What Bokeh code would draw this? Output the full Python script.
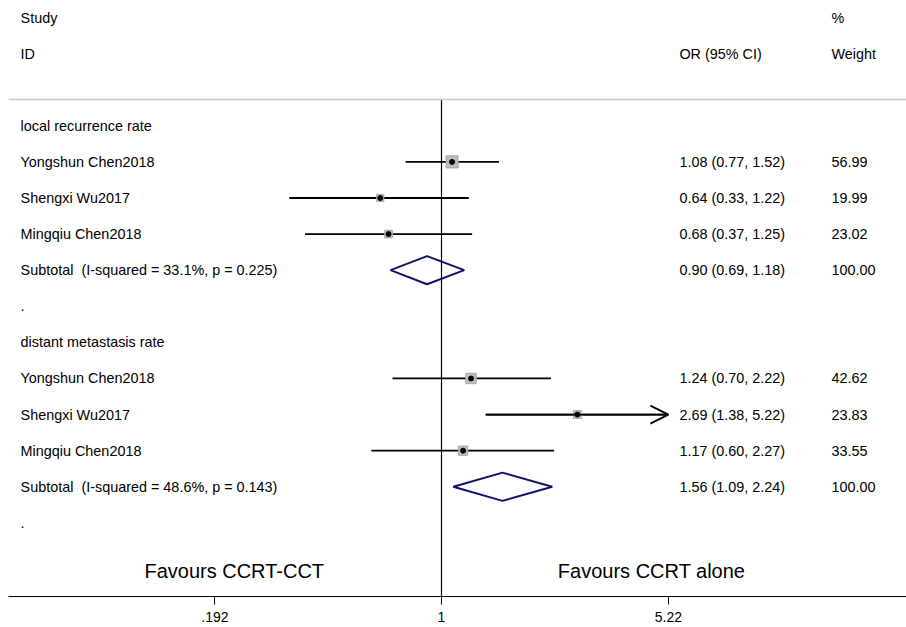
import numpy as np
from bokeh.plotting import figure
from bokeh.models import (Range1d, FixedTicker, CustomJSTickFormatter, Span,
                          Arrow, OpenHead, ColumnDataSource)
from bokeh.core.properties import value
from bokeh.embed import file_html
from bokeh.resources import INLINE

# ---------------- data ----------------
group_names = ["local recurrence rate", "distant metastasis rate"]
study_names = ["Yongshun Chen2018", "Shengxi Wu2017", "Mingqiu Chen2018"]

or_local = [1.08, 0.64, 0.68]
lo_local = [0.77, 0.33, 0.37]
hi_local = [1.52, 1.22, 1.25]
w_local = [56.99, 19.99, 23.02]

or_dist = [1.24, 2.69, 1.17]
lo_dist = [0.70, 1.38, 0.60]
hi_dist = [2.22, 5.22, 2.27]
w_dist = [42.62, 23.83, 33.55]

sub_or = [0.90, 1.56]
sub_lo = [0.69, 1.09]
sub_hi = [1.18, 2.24]
sub_i2 = ["33.1%", "48.6%"]
sub_p = ["0.225", "0.143"]
sub_w = [100.00, 100.00]

tick_values = [0.192, 1, 5.22]
favours_left = "Favours CCRT-CCT"
favours_right = "Favours CCRT alone"

# ---------------- layout constants ----------------
FONT = "Liberation Sans"
W, H = 906, 627
X_LEFT, X_RIGHT = np.exp(-3.154), np.exp(3.387)
Y_TOP, Y_BOTTOM = -0.471, 16.04
X_LABEL = np.exp(-3.066)
X_OR = np.exp(1.733)
X_WT = np.exp(2.840)
LINE_ROW = 2.27
FAV_ROW = 15.32
X_FAV_L, X_FAV_R = 0.221, 4.62

p = figure(width=W, height=H, x_axis_type="log", output_backend="svg",
           toolbar_location=None, x_range=Range1d(X_LEFT, X_RIGHT),
           y_range=Range1d(Y_BOTTOM, Y_TOP), y_axis_location=None,
           min_border=0, min_border_left=8, min_border_right=0, min_border_top=0,
           min_border_bottom=31)
p.outline_line_color = None
p.xgrid.visible = False
p.ygrid.visible = False
p.background_fill_color = "white"
p.border_fill_color = "white"

# ---------------- build rows ----------------
lab_y, lab_t = [], []
or_y, or_t, wt_y, wt_t = [], [], [], []
st_or, st_lo, st_hi, st_w, st_y = [], [], [], [], []
groups = [(or_local, lo_local, hi_local, w_local), (or_dist, lo_dist, hi_dist, w_dist)]
for g, (o, l, h, w) in enumerate(groups):
    base = 3 + 6 * g
    lab_y.append(base); lab_t.append(group_names[g])
    for i in range(3):
        r = base + 1 + i
        lab_y.append(r); lab_t.append(study_names[i])
        or_y.append(r); or_t.append(f"{o[i]:.2f} ({l[i]:.2f}, {h[i]:.2f})")
        wt_y.append(r); wt_t.append(f"{w[i]:.2f}")
        st_or.append(o[i]); st_lo.append(l[i]); st_hi.append(h[i]); st_w.append(w[i]); st_y.append(r)
    rs = base + 4
    lab_y.append(rs); lab_t.append(f"Subtotal\u00a0 (I-squared = {sub_i2[g]}, p = {sub_p[g]})")
    or_y.append(rs); or_t.append(f"{sub_or[g]:.2f} ({sub_lo[g]:.2f}, {sub_hi[g]:.2f})")
    wt_y.append(rs); wt_t.append(f"{sub_w[g]:.2f}")
    lab_y.append(rs + 1); lab_t.append(".")

txt = dict(text_font=value(FONT), text_font_size="14.4px", text_color="black",
           text_baseline="middle")

# header
p.text(x=[X_LABEL, X_LABEL], y=[0, 1], text=["Study", "ID"], **txt)
p.text(x=[X_OR], y=[1], text=["OR (95% CI)"], **txt)
p.text(x=[X_WT, X_WT], y=[0, 1], text=["%", "Weight"], **txt)

p.text(x=[X_LABEL] * len(lab_y), y=lab_y, text=lab_t, **txt)
p.text(x=[X_OR] * len(or_y), y=or_y, text=or_t, **txt)
p.text(x=[X_WT] * len(wt_y), y=wt_y, text=wt_t, **txt)

# separator line and null line
p.add_layout(Span(location=LINE_ROW, dimension="width", line_color="#c8c8c8", line_width=1.5))
p.segment(x0=[1], y0=[LINE_ROW], x1=[1], y1=[Y_BOTTOM], line_color="black", line_width=1.2)

# study CIs, boxes, dots
src = ColumnDataSource(dict(o=st_or, lo=st_lo, hi=st_hi, y=st_y,
                            s=[1.6 * np.sqrt(v) for v in st_w]))
p.segment(x0="lo", y0="y", x1="hi", y1="y", source=src, line_color="black", line_width=1.8)
p.scatter(x="o", y="y", size="s", marker="square", source=src,
          fill_color="#bdbdbd", line_color="#a8a8a8", line_width=1)
p.scatter(x="o", y="y", size=5, marker="circle", source=src,
          fill_color="black", line_color="black")

# arrows for CIs reaching beyond the axis
for o, l, h, y in zip(st_or, st_lo, st_hi, st_y):
    if h >= max(tick_values):
        p.add_layout(Arrow(end=OpenHead(size=18, line_width=1.8, line_color="black"),
                           x_start=l, y_start=y, x_end=h, y_end=y,
                           line_color="black", line_width=1.8))

# subtotal diamonds
DH = 0.39
for g in range(2):
    rs = 3 + 6 * g + 4
    p.patch(x=[sub_lo[g], sub_or[g], sub_hi[g], sub_or[g], sub_lo[g]],
            y=[rs, rs - DH, rs, rs + DH, rs],
            fill_color=None, line_color="#101068", line_width=1.9)

# favours labels
p.text(x=[X_FAV_L, X_FAV_R], y=[FAV_ROW, FAV_ROW], text=[favours_left, favours_right],
       text_font=value(FONT), text_font_size="20px", text_align="center",
       text_baseline="middle", text_color="black")

# axis
ax = p.xaxis[0]
ax.ticker = FixedTicker(ticks=tick_values)
ax.minor_tick_line_color = None
ax.major_tick_in = 0
ax.major_tick_out = 8
ax.major_label_standoff = 7
ax.axis_line_color = "black"
ax.major_tick_line_color = "black"
ax.major_label_text_font = FONT
ax.major_label_text_font_size = "14px"
ax.major_label_text_color = "black"
ax.formatter = CustomJSTickFormatter(code="""
const s = tick.toString();
return s.startsWith("0.") ? s.slice(1) : s;
""")

open("out.html", "w").write(file_html(p, INLINE))
